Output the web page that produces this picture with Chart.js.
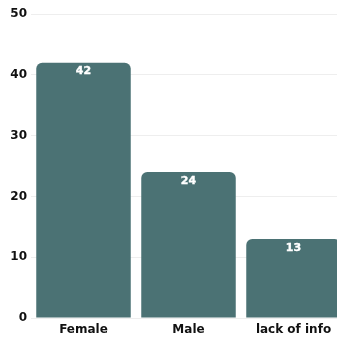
<!DOCTYPE html>
<html>
<head>
<meta charset="utf-8">
<script src="https://cdn.jsdelivr.net/npm/chart.js@4"></script>
<style>
  html, body { margin: 0; padding: 0; background: #fff; overflow: hidden; }
  #wrap { width: 346px; height: 340px; }
</style>
</head>
<body>
<div id="wrap"><canvas id="genderChart"></canvas></div>
<script>
// data
const categories = ['Female', 'Male', 'lack of info'];
const counts = [42, 24, 13];
const yTicks = [0, 10, 20, 30, 40, 50];

const FONT = '"DejaVu Sans", sans-serif';

// white value labels just inside the top of each bar
const barValueLabels = {
  id: 'barValueLabels',
  afterDatasetsDraw(chart) {
    const ctx = chart.ctx;
    const meta = chart.getDatasetMeta(0);
    ctx.save();
    ctx.fillStyle = '#ffffff';
    ctx.strokeStyle = '#ffffff';
    ctx.lineWidth = 0.4;
    ctx.font = 'bold 11px ' + FONT;
    ctx.textAlign = 'center';
    ctx.textBaseline = 'middle';
    meta.data.forEach((bar, i) => {
      ctx.fillText(String(counts[i]), bar.x, bar.y + 9);
      ctx.strokeText(String(counts[i]), bar.x, bar.y + 9);
    });
    ctx.restore();
  }
};

const genderCtx = document.getElementById('genderChart').getContext('2d');
const genderChart = new Chart(genderCtx, {
  type: 'bar',
  data: {
    labels: categories,
    datasets: [{
      data: counts,
      backgroundColor: '#4b7274',
      borderRadius: { topLeft: 6, topRight: 6 },
      borderSkipped: 'bottom',
      categoryPercentage: 1,
      barPercentage: 0.9,
    }]
  },
  options: {
    responsive: true,
    maintainAspectRatio: false,
    animation: false,
    layout: { padding: { top: 14, left: 0, right: 0, bottom: 0 } },
    plugins: {
      legend: { display: false },
      tooltip: { enabled: false },
    },
    scales: {
      x: {
        grid: { display: false },
        border: { display: false },
        ticks: {
          color: '#111',
          padding: -3,
          font: { family: FONT, size: 12, weight: 'bold' },
        },
        afterFit: (scale) => { scale.height = 22; },
      },
      y: {
        min: 0,
        max: 50,
        afterBuildTicks: (scale) => { scale.ticks = yTicks.map(v => ({ value: v })); },
        grid: { color: '#eeeeee', drawTicks: false },
        border: { display: false },
        ticks: {
          color: '#111',
          padding: 4,
          font: { family: FONT, size: 12, weight: 'bold' },
        },
        afterFit: (scale) => { scale.width = 31; },
      },
    },
  },
  plugins: [barValueLabels],
});
</script>
</body>
</html>
